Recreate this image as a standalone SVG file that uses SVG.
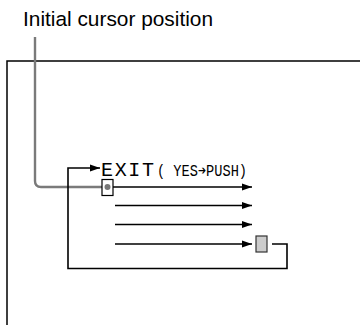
<svg xmlns="http://www.w3.org/2000/svg" width="360" height="325" viewBox="0 0 360 325">
<style>
.blk{fill:none;stroke:#000;stroke-width:1.6}
.gry{fill:none;stroke:#7a7a7a;stroke-width:2.4}
.lbl{font-family:"Liberation Sans",Arial,sans-serif;font-size:20.5px;fill:#000}
.lcd{font-family:"Liberation Mono","DejaVu Sans Mono",monospace;fill:#000}
</style>
<defs>
<marker id="ah" markerWidth="10" markerHeight="8" refX="10" refY="4" orient="auto" markerUnits="userSpaceOnUse">
<path d="M0,0.5 L10,4 L0,7.5 Z" fill="#000"/>
</marker>
</defs>
<rect id="screen" x="7" y="61" width="360" height="280" fill="none" stroke="#000" stroke-width="1.5"/>
<g id="label"><text class="lbl" x="23" y="26" textLength="190" lengthAdjust="spacingAndGlyphs">Initial cursor position</text></g>
<g id="connectors">
<path class="gry" d="M35,37 V181 Q35,187 41,187 H107"/>
<line class="blk" x1="113" y1="187" x2="252" y2="187" marker-end="url(#ah)"/>
<line class="blk" x1="115" y1="205.5" x2="252" y2="205.5" marker-end="url(#ah)"/>
<line class="blk" x1="115" y1="224.5" x2="252" y2="224.5" marker-end="url(#ah)"/>
<line class="blk" x1="115" y1="244" x2="252" y2="244" marker-end="url(#ah)"/>
<path class="blk" d="M272,244 H287 V268.5 H68 V168 H100" marker-end="url(#ah)"/>
</g>
<g id="cursor">
<rect x="102" y="179.5" width="11" height="16" fill="#fff" stroke="#000" stroke-width="1.2"/>
<circle cx="107.5" cy="187" r="3" fill="#777"/>
</g>
<g id="exit">
<text class="lcd" x="101" y="175.7" font-size="20" textLength="53">EXIT</text>
<text class="lcd" x="157" y="175.7" font-size="17" textLength="90" lengthAdjust="spacingAndGlyphs">( YES➔PUSH)</text>
</g>
<g id="endbox"><rect x="256" y="236" width="11" height="16" fill="#ccc" stroke="#333" stroke-width="1.2"/></g>
</svg>
